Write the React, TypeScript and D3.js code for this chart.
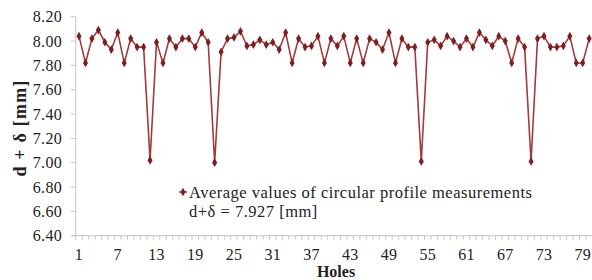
import React from 'react';
import * as d3 from 'd3';

const holes: number[] = Array.from({ length: 80 }, (_, i) => i + 1);
const values: number[] = [
  8.04, 7.82, 8.02, 8.09, 7.99, 7.93, 8.07, 7.82, 8.02, 7.95,
  7.95, 7.02, 7.99, 7.82, 8.02, 7.95, 8.02, 8.02, 7.95, 8.07,
  7.99, 7.00, 7.91, 8.02, 8.03, 8.08, 7.96, 7.97, 8.01, 7.97,
  7.99, 7.93, 8.07, 7.82, 8.02, 7.95, 7.96, 8.04, 7.82, 8.02,
  7.96, 8.04, 7.82, 8.02, 7.82, 8.02, 7.99, 7.93, 8.07, 7.82,
  8.02, 7.95, 7.95, 7.01, 7.99, 8.01, 7.96, 8.04, 8.00, 7.95,
  8.02, 7.95, 8.07, 8.01, 7.96, 8.04, 8.00, 7.82, 8.02, 7.95,
  7.01, 8.02, 8.04, 7.95, 7.95, 7.96, 8.04, 7.82, 7.82, 8.02,
];
const yTicks: number[] = [6.4, 6.6, 6.8, 7.0, 7.2, 7.4, 7.6, 7.8, 8.0, 8.2];
const xTickLabels: number[] = [1, 7, 13, 19, 25, 31, 37, 43, 49, 55, 61, 67, 73, 79];

const legendLines = ['Average values of circular profile measurements', 'd+δ = 7.927 [mm]'];

const W = 592;
const H = 280;
const font = '"Liberation Serif", "Times New Roman", serif';
const lineColor = '#a03c3c';
const markColor = '#7d1f1f';
const axisColor = '#c6c6c6';

export default function App() {
  const left = 75.8;
  const right = 592.4;
  const top = 16.7;
  const bottom = 235.7;

  const x = d3.scaleBand<number>().domain(holes).range([left, right]).padding(0);
  const cx = (h: number) => (x(h) as number) + x.bandwidth() / 2;
  const y = d3.scaleLinear().domain([6.4, 8.2]).range([bottom, top]);

  const line = d3
    .line<number>()
    .x((_, i) => cx(holes[i]))
    .y((v) => y(v));

  const diamond = d3.symbol().type(d3.symbolDiamond).size(22)() as string;

  const boundaries = holes.map((h) => x(h) as number).concat([right]);

  return (
    <svg width={W} height={H} style={{ position: 'absolute', left: 0, top: 0, background: '#fff' }}>
      {/* y axis */}
      <line x1={left} x2={left} y1={top} y2={bottom} stroke={axisColor} strokeWidth={1} />
      {yTicks.map((t) => (
        <g key={t}>
          <line x1={left - 5} x2={left} y1={y(t)} y2={y(t)} stroke={axisColor} strokeWidth={1} />
          <text
            x={62}
            y={y(t)}
            dy="0.35em"
            textAnchor="end"
            fontFamily={font}
            fontSize={16}
            letterSpacing={0.3}
            fill="#222"
          >
            {t.toFixed(2)}
          </text>
        </g>
      ))}

      {/* x axis */}
      <line x1={left - 4} x2={right} y1={bottom} y2={bottom} stroke={axisColor} strokeWidth={1} />
      {boundaries.map((b, i) => (
        <line key={i} x1={b} x2={b} y1={bottom} y2={bottom + 4} stroke={axisColor} strokeWidth={1} />
      ))}
      {xTickLabels.map((h) => (
        <text
          key={h}
          x={cx(h)}
          y={254}
          dy="0.35em"
          textAnchor="middle"
          fontFamily={font}
          fontSize={16}
          letterSpacing={0.3}
          fill="#222"
        >
          {h}
        </text>
      ))}

      {/* axis titles */}
      <text
        x={336}
        y={271.5}
        dy="0.35em"
        textAnchor="middle"
        fontFamily={font}
        fontSize={16}
        fontWeight="bold"
        fill="#222"
      >
        Holes
      </text>
      <text
        transform={`translate(20,128) rotate(-90)`}
        dy="0.35em"
        textAnchor="middle"
        fontFamily={font}
        fontSize={18}
        fontWeight="bold"
        letterSpacing={1.2}
        fill="#222"
      >
        d + δ [mm]
      </text>

      {/* series */}
      <path d={line(values) as string} fill="none" stroke={lineColor} strokeWidth={1.6} />
      {values.map((v, i) => (
        <path key={i} d={diamond} transform={`translate(${cx(holes[i])},${y(v)})`} fill={markColor} />
      ))}

      {/* legend */}
      <line x1={179} x2={187} y1={192} y2={192} stroke={lineColor} strokeWidth={1.6} />
      <path d={diamond} transform="translate(183,192)" fill={markColor} />
      {legendLines.map((s, i) => (
        <text
          key={i}
          x={189}
          y={192 + i * 19.5}
          dy="0.35em"
          fontFamily={font}
          fontSize={16.5}
          letterSpacing={0.5}
          fill="#222"
        >
          {s}
        </text>
      ))}
    </svg>
  );
}
